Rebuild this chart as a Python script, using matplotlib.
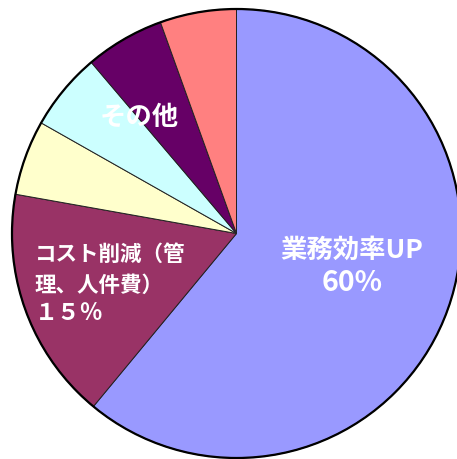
import matplotlib.pyplot as plt
import numpy as np

plt.rcParams['font.family'] = ['Noto Sans CJK JP', 'DejaVu Sans']

# slice shares (clockwise from 12 o'clock)
names = ['業務効率UP', 'コスト削減（管理、人件費）', 'a', 'b', 'その他', 'c']
shares = [61.0, 16.8, 5.4, 5.6, 5.7, 5.5]
colors = ['#9999FF', '#993366', '#FFFFCC', '#CCFFFF', '#660066', '#FF8080']

fig = plt.figure(figsize=(4.57, 4.59), dpi=100)
ax = fig.add_axes([0, 0, 1, 1])

r_px = 224.5
cx, cy = 236.5, 233.5

ax.pie(shares, colors=colors, startangle=90, counterclock=False, radius=1,
       wedgeprops=dict(edgecolor='#222222', linewidth=0.7))
# outer rim
ax.add_patch(plt.Circle((0, 0), 1, fill=False, edgecolor='black', linewidth=1.6))

ax.set_aspect('auto')
ax.set_xlim(-cx / r_px, (457 - cx) / r_px)
ax.set_ylim(-(459 - cy) / r_px, cy / r_px)
ax.axis('off')


def px(x, y):
    return (x - cx) / r_px, (cy - y) / r_px


ax.text(*px(352, 250), '業務効率UP', color='white', fontsize=19, fontweight='bold',
        ha='center', va='center')
ax.text(*px(352, 283), '60%', color='white', fontsize=20.5, fontweight='bold',
        ha='center', va='center')

ax.text(*px(35, 254), 'コスト削減（管', color='white', fontsize=15.5, fontweight='bold',
        ha='left', va='center')
ax.text(*px(35, 285), '理、人件費）', color='white', fontsize=15.5, fontweight='bold',
        ha='left', va='center')
ax.text(*px(35, 313), '１５％', color='white', fontsize=16.5, fontweight='bold',
        ha='left', va='center')

ax.text(*px(139, 117), 'その他', color='white', fontsize=19, fontweight='bold',
        ha='center', va='center')

plt.savefig('out.png', dpi=100)
